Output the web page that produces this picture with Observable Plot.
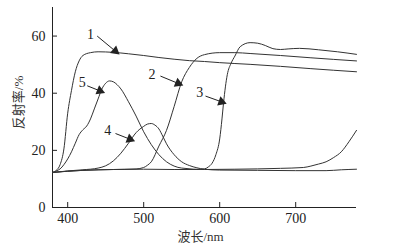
<!DOCTYPE html>
<html><head><meta charset="utf-8">
<script src="https://cdn.jsdelivr.net/npm/d3@7"></script>
<script src="https://cdn.jsdelivr.net/npm/@observablehq/plot@0.6"></script>
<style>body{margin:0;background:#fff}</style>
</head><body><div id="chart"></div>
<script>
const xTicks = [400, 500, 600, 700];
const yTicks = [0, 20, 40, 60];

const wl1 = [380,385,390,395,400,405,410,415,420,430,440,460,480,500,520,540,560,580,600,640,680,720,780];
const r1  = [12.3,13,15,20.5,33,41,47.5,51.3,53.2,54.2,54.5,54.3,53.8,53.2,52.5,51.9,51.4,51.1,50.7,50.1,49.4,48.6,47.5];

const wl2 = [380,420,460,490,500,505,510,520,530,540,550,560,570,580,600,620,640,680,720,780];
const r2  = [12.3,13,13.3,13.5,14,14.8,16,21.5,27,35.3,44,49,52.2,53.5,54.2,54.2,53.9,53.2,52.4,51.3];

const wl3 = [380,420,460,500,540,570,580,585,590,595,600,603,605,610,615,620,627,640,650,660,670,680,690,705,730,755,780];
const r3  = [12.3,13,13.3,13.4,13.3,13.3,13.5,14.2,15.5,18.5,24,31,36.5,46.5,50.5,53,56.3,57.7,57.5,56.7,55.6,55.3,55.5,55.7,55.2,54.5,53.6];

const wl4 = [380,400,420,440,450,460,470,480,490,500,505,510,515,520,525,530,540,550,560,570,580,600,650,700,740,760,780];
const r4  = [12.2,12.8,13.2,13.8,14.6,16.3,19,22.5,26.2,28.4,29.2,29.4,28.8,27.5,25,22.3,18.5,16,14.7,13.9,13.4,13.1,13,12.9,12.9,13.2,13.4];

const wl5 = [380,385,390,395,400,405,410,415,420,425,430,435,440,445,450,455,460,465,470,480,490,500,510,520,530,540,550,580,620,680,710,720,730,740,750,760,770,780];
const r5  = [12.2,12.8,13.5,15,17,19.5,22.5,25.5,27.2,28.5,31,34.5,38,41.5,43.5,44.3,44,43,41.5,37,32,26.5,22,18.5,16,14.5,13.8,13.3,13.4,13.7,14,14.5,15.2,16,17.5,19.5,23,27];

const labelText = ["1","2","3","4","5"];
const labelX = [430, 511, 573.8, 452.8, 419];
const labelY = [60.7, 46.6, 40.2, 27.1, 43.7];
const arrowX1 = [438.8, 522, 581.3, 462.9, 425.7];
const arrowY1 = [60, 46, 39, 25.9, 42.6];
const arrowX2 = [465.1, 548.4, 605.4, 484.9, 445.4];
const arrowY2 = [54.2, 43.1, 36.7, 23.6, 40.5];

const series = [[wl1,r1],[wl2,r2],[wl3,r3],[wl4,r4],[wl5,r5]];
const lineData = series.flatMap(([w, r], k) => w.map((x, i) => ({x, y: r[i], k})));
const labels = labelText.map((t, i) => ({t, x: labelX[i], y: labelY[i]}));
const arrows = labelText.map((t, i) => ({x1: arrowX1[i], y1: arrowY1[i], x2: arrowX2[i], y2: arrowY2[i]}));

function make(heads) {
  return Plot.plot({
    width: 401, height: 252,
    marginLeft: 52, marginRight: 45, marginTop: 7, marginBottom: 45,
    style: {fontFamily: '"Liberation Serif","Noto Sans CJK SC",serif', fontSize: "14px", color: "#222", background: "#fff"},
    x: {domain: [380, 780]},
    y: {domain: [0, 70]},
    marks: [
      Plot.axisX({ticks: xTicks, tickSize: -5, tickPadding: 11, label: null}),
      Plot.axisY({ticks: yTicks, tickSize: -5, tickPadding: 12, label: null}),
      Plot.ruleX([380], {stroke: "#222"}),
      Plot.ruleY([0], {stroke: "#222"}),
      Plot.line(lineData, {x: "x", y: "y", z: "k", stroke: "#333", strokeWidth: 1, curve: "monotone-x"}),
      Plot.link(arrows, {x1: "x1", y1: "y1", x2: "x2", y2: "y2", stroke: "#222", strokeWidth: 1}),
      Plot.dot(heads, {x: "x", y: "y", rotate: "a", symbol: "triangle", r: 3.6, fill: "#222", stroke: "none"}),
      Plot.text(labels, {x: "x", y: "y", text: "t", fontSize: 14, fill: "#222"}),
      Plot.text(["波长/nm"], {frameAnchor: "bottom", dx: -4, dy: 33, fontSize: 13, fill: "#333"}),
      Plot.text(["反射率/%"], {frameAnchor: "left", textAnchor: "middle", dx: -34, dy: -5, rotate: -90, fontSize: 13, fill: "#333"})
    ]
  });
}

const first = make([]);
const sx = first.scale("x"), sy = first.scale("y");
const heads = arrows.map(a => {
  const px1 = sx.apply(a.x1), py1 = sy.apply(a.y1), px2 = sx.apply(a.x2), py2 = sy.apply(a.y2);
  const dx = px2 - px1, dy = py2 - py1, len = Math.hypot(dx, dy);
  const back = 2.5;
  const hx = px2 - dx / len * back, hy = py2 - dy / len * back;
  return {x: sx.invert(hx), y: sy.invert(hy), a: Math.atan2(dx, -dy) * 180 / Math.PI};
});
document.getElementById("chart").append(make(heads));
</script>
</body></html>
